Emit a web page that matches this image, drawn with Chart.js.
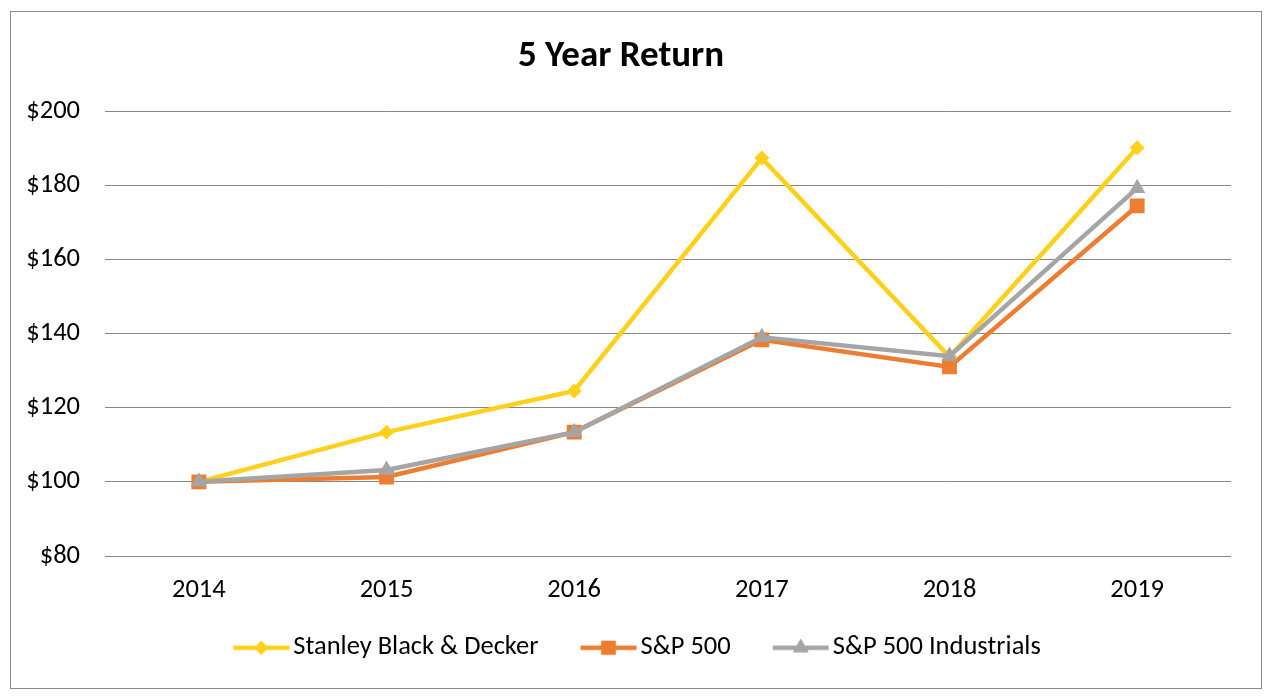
<!DOCTYPE html>
<html>
<head>
<meta charset="utf-8">
<script src="https://cdn.jsdelivr.net/npm/chart.js@4"></script>
<style>
  body { margin: 0; background: #fff; }
  #frame {
    position: absolute; left: 10px; top: 11px;
    width: 1250px; height: 676px;
    border: 1px solid #8c8c8c;
  }
</style>
</head>
<body>
<div id="frame"><canvas id="retChart" width="1250" height="676"></canvas></div>
<script>
// ================= DATA =================
const years = ["2014", "2015", "2016", "2017", "2018", "2019"];
const stanley = [100, 113.4, 124.5, 187.3, 133.7, 190.1];
const sp500 = [100, 101.3, 113.4, 138.3, 131.0, 174.4];
const industrials = [100, 103.2, 113.4, 139.0, 133.9, 179.2];
const yTicks = [80, 100, 120, 140, 160, 180, 200];

const FONT = "Carlito, Lato, 'Open Sans', sans-serif";
const YELLOW = "#FFD11C";
const ORANGE = "#ED7D31";
const GRAY = "#A5A5A5";

// legend geometry: box is wider than the icon line, line sits to the right
const BOX_W = 78.75;
const ICON_LINE = 56;
const LINE_START = 32; // from box start

// legend icon: short line with the marker in the middle
function legendIcon(color, style, r) {
  const c = document.createElement("canvas");
  const half = LINE_START + ICON_LINE - BOX_W / 2;
  c.width = Math.ceil(half * 2); c.height = 26;
  const cx = c.width / 2;
  const x0 = cx - BOX_W / 2 + LINE_START;
  const ctx = c.getContext("2d");
  ctx.strokeStyle = color;
  ctx.lineWidth = 4.5;
  ctx.beginPath();
  ctx.moveTo(x0, 13); ctx.lineTo(x0 + ICON_LINE, 13);
  ctx.stroke();
  ctx.fillStyle = color;
  Chart.helpers.drawPoint(ctx, { pointStyle: style, radius: r, rotation: 0, borderWidth: 0 }, x0 + ICON_LINE / 2, 13);
  ctx.fill();
  return c;
}

const series = [
  { label: "Stanley Black & Decker", data: stanley, color: YELLOW, style: "rectRot", r: 7.5, order: 3 },
  { label: "S&P 500", data: sp500, color: ORANGE, style: "rect", r: 10.5, order: 2 },
  { label: "S&P 500 Industrials", data: industrials, color: GRAY, style: "triangle", r: 9.5, order: 1 }
];

new Chart(document.getElementById("retChart"), {
  type: "line",
  data: {
    labels: years,
    datasets: series.map(s => ({
      label: s.label,
      data: s.data,
      order: s.order,
      borderColor: s.color,
      backgroundColor: s.color,
      borderWidth: 4.5,
      pointStyle: s.style,
      pointRadius: s.r,
      pointHoverRadius: s.r,
      pointBorderWidth: 0,
      pointBackgroundColor: s.color,
      tension: 0
    }))
  },
  options: {
    responsive: false,
    animation: false,
    layout: { padding: { left: 0, right: 30, top: 0, bottom: 17 } },
    plugins: {
      tooltip: { enabled: false },
      title: {
        display: true,
        text: "5 Year Return",
        color: "#000",
        font: { family: FONT, size: 37, weight: "bold" },
        padding: { top: 23, bottom: 31.6 }
      },
      legend: {
        position: "bottom",
        labels: {
          color: "#000",
          font: { family: FONT, size: 26.5 },
          usePointStyle: true,
          pointStyleWidth: BOX_W,
          boxHeight: 26.5,
          padding: 10,
          sort: (a, b) => a.datasetIndex - b.datasetIndex,
          generateLabels: chart => series.map((s, i) => ({
            text: s.label,
            datasetIndex: i,
            pointStyle: legendIcon(s.color, s.style, s.r - 0.5),
            fillStyle: s.color,
            strokeStyle: s.color,
            lineWidth: 0,
            fontColor: "#000"
          }))
        }
      }
    },
    scales: {
      x: {
        offset: true,
        afterFit: scale => { scale.height = 68.5; },
        grid: { display: false, drawTicks: false },
        border: { display: false },
        ticks: { color: "#000", font: { family: FONT, size: 26.5 }, padding: 18 }
      },
      y: {
        min: 80,
        max: 200,
        afterFit: scale => { scale.width = 94; },
        afterBuildTicks: scale => { scale.ticks = yTicks.map(v => ({ value: v })); },
        grid: { color: "#868686", lineWidth: 1, drawTicks: false },
        border: { display: false },
        ticks: {
          color: "#000",
          font: { family: FONT, size: 26.5 },
          padding: 25,
          callback: v => "$" + v
        }
      }
    }
  }
});
</script>
</body>
</html>
